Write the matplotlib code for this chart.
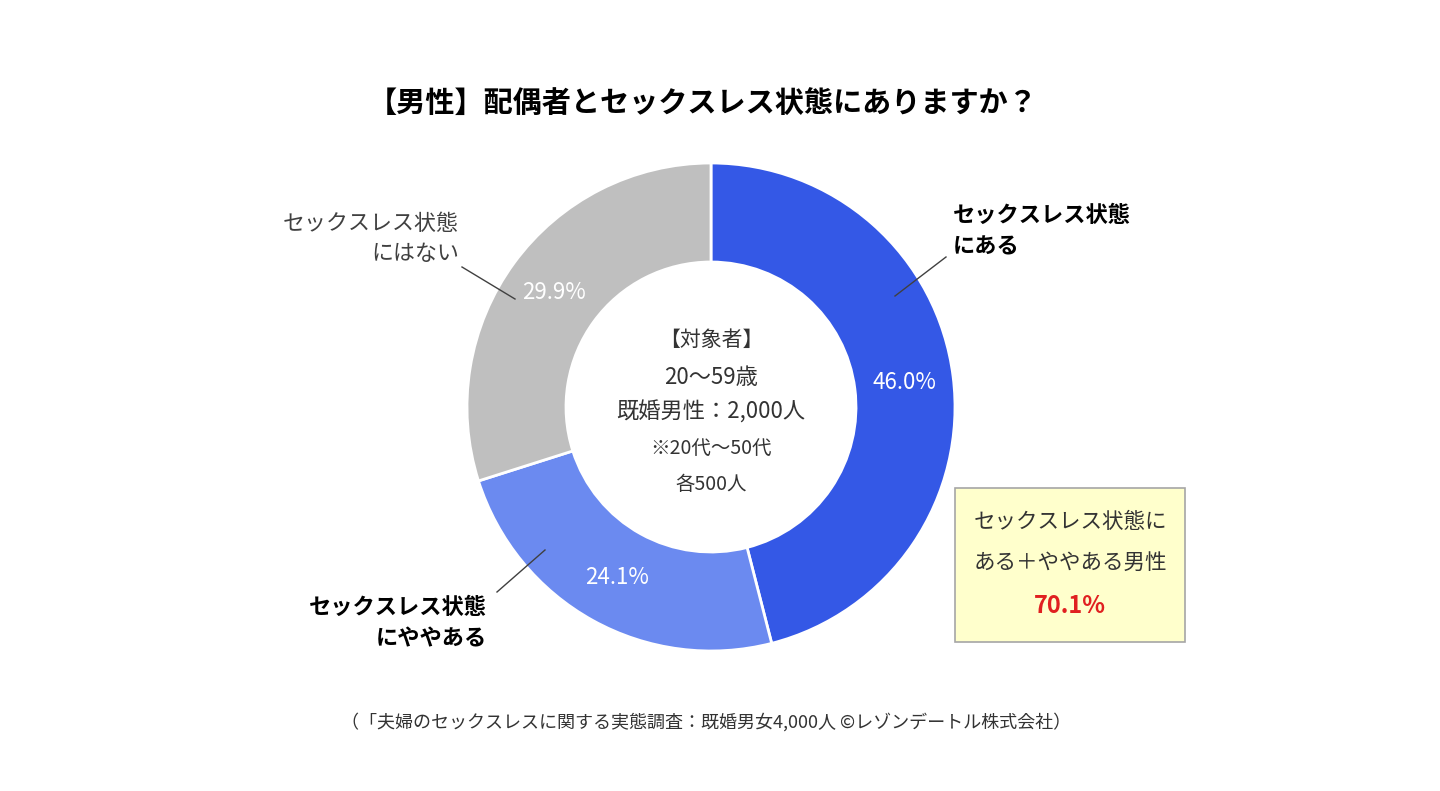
import matplotlib.pyplot as plt
from matplotlib.patches import Rectangle

plt.rcParams['font.family'] = ['Noto Sans CJK JP', 'DejaVu Sans']

# data
labels = ['セックスレス状態\nにある', 'セックスレス状態\nにややある', 'セックスレス状態\nにはない']
values = [46.0, 24.1, 29.9]
colors = ['#3458E6', '#6B8AF0', '#BFBFBF']
title = '【男性】配偶者とセックスレス状態にありますか？'
center_lines = ['【対象者】', '20〜59歳', '既婚男性：2,000人', '※20代〜50代', '各500人']
box_lines = ['セックスレス状態に', 'ある＋ややある男性']
box_total = '70.1%'
source = '（「夫婦のセックスレスに関する実態調査：既婚男女4,000人 ©レゾンデートル株式会社）'

W, H = 1440, 791
fig = plt.figure(figsize=(W / 100, H / 100), dpi=100)
ax = fig.add_axes([0, 0, 1, 1])


def Y(y):
    # pixel row -> data y
    return H - y


cx, cy, r_out, r_in = 711, Y(407), 244, 145
ax.pie(values, colors=colors, startangle=90, counterclock=False,
       center=(cx, cy), radius=r_out,
       wedgeprops=dict(width=r_out - r_in, edgecolor='white', linewidth=2),
       autopct='%.1f%%', pctdistance=(r_out + r_in) / 2 / r_out,
       textprops=dict(color='white', fontsize=16))

ax.set_xlim(0, W)
ax.set_ylim(0, H)
ax.set_aspect('equal')
ax.axis('off')

# title
ax.text(703, Y(103), title, ha='center', va='center', fontsize=21, fontweight='bold')

# outside labels + leader lines
ax.text(953, Y(231), labels[0], ha='left', va='center', fontsize=16,
        fontweight='bold', linespacing=1.5)
ax.plot([895, 946], [Y(296), Y(257)], color='#404040', lw=1)

ax.text(487, Y(623), labels[1], ha='right', va='center', fontsize=16,
        fontweight='bold', linespacing=1.5, multialignment='right')
ax.plot([497, 545], [Y(592), Y(550)], color='#404040', lw=1)

ax.text(459, Y(239), labels[2], ha='right', va='center', fontsize=15.8,
        color='#404040', linespacing=1.5, multialignment='right')
ax.plot([462, 515], [Y(267), Y(299)], color='#404040', lw=1)

# center text
center_y = [340, 377, 412, 448, 485]
center_fs = [15, 16, 16, 14, 14]
for line, yy, fs in zip(center_lines, center_y, center_fs):
    ax.text(cx, Y(yy), line, ha='center', va='center', fontsize=fs, color='#333333')

# summary box
ax.add_patch(Rectangle((955, Y(642)), 230, 154, facecolor='#FFFFCC',
                       edgecolor='#A6A6A6', lw=1.2))
ax.text(1070, Y(522), box_lines[0], ha='center', va='center', fontsize=15.5, color='#333333')
ax.text(1070, Y(563), box_lines[1], ha='center', va='center', fontsize=15.5, color='#333333')
ax.text(1070, Y(606), box_total, ha='center', va='center', fontsize=17,
        fontweight='bold', color='#E02020')

# source
ax.text(706, Y(722), source, ha='center', va='center', fontsize=13, color='#333333')

fig.savefig('out.png', dpi=100)
